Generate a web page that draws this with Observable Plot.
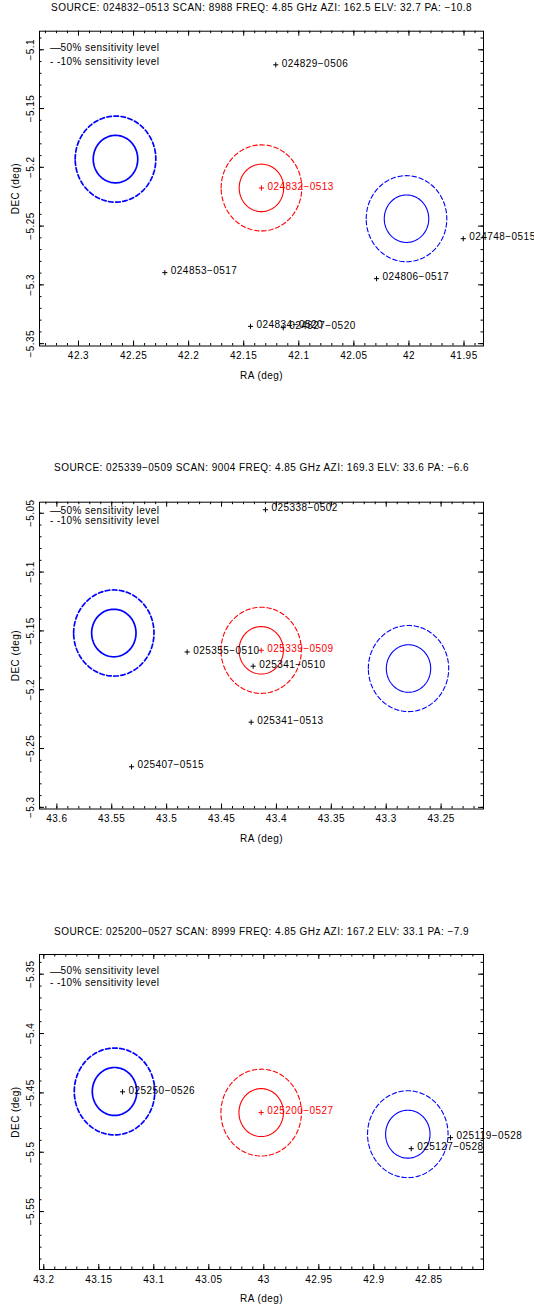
<!DOCTYPE html>
<html><head><meta charset="utf-8">
<script src="https://cdn.jsdelivr.net/npm/d3@7"></script>
<script src="https://cdn.jsdelivr.net/npm/@observablehq/plot@0.6"></script>
<style>
body{margin:0;background:#fff;}
#wrap{position:relative;width:534px;height:1306px;overflow:hidden;background:#fff;}
#wrap svg{position:absolute;left:0;overflow:hidden;}
</style></head><body><div id="wrap"></div>
<script>
// ---------- data ----------
const titles = [
  "SOURCE: 024832\u22120513 SCAN: 8988 FREQ: 4.85 GHz AZI: 162.5 ELV: 32.7 PA: \u221210.8",
  "SOURCE: 025339\u22120509 SCAN: 9004 FREQ: 4.85 GHz AZI: 169.3 ELV: 33.6 PA: \u22126.6",
  "SOURCE: 025200\u22120527 SCAN: 8999 FREQ: 4.85 GHz AZI: 167.2 ELV: 33.1 PA: \u22127.9"
];
const xDomains = [[42.3354, 41.9323], [43.6158, 43.2114], [43.2039, 42.8003]];
const yDomains = [[-5.352, -5.0842], [-5.3014, -5.0406], [-5.5988, -5.3334]];
const xMajorTicks = [
  [42.3, 42.25, 42.2, 42.15, 42.1, 42.05, 42, 41.95],
  [43.6, 43.55, 43.5, 43.45, 43.4, 43.35, 43.3, 43.25],
  [43.2, 43.15, 43.1, 43.05, 43, 42.95, 42.9, 42.85]
];
const yMajorTicks = [
  [-5.1, -5.15, -5.2, -5.25, -5.3, -5.35],
  [-5.05, -5.1, -5.15, -5.2, -5.25, -5.3],
  [-5.35, -5.4, -5.45, -5.5, -5.55]
];
const legendLabels = ["50% sensitivity level", "10% sensitivity level"];
const legendSymbols = ["\u2014", "- -"];
const beamRadii = [0.0202, 0.0366]; // 50% and 10% sensitivity radii (deg)

// beams: [RA, DEC] per panel: left (blue), centre (red), right (blue)
const beamRA  = [[42.2664, 42.1339, 42.0022], [43.5481, 43.4139, 43.2797], [43.1357, 43.0024, 42.8691]];
const beamDec = [[-5.1930, -5.2175, -5.2437], [-5.1518, -5.1665, -5.1820], [-5.4488, -5.4666, -5.4848]];
const beamColor = ["#0000ff", "#ff0000", "#0000ff"];
const beamWidth = [1.7, 1.1, 1.1];

const srcName = [
  ["024829\u22120506", "024832\u22120513", "024748\u22120515", "024853\u22120517", "024806\u22120517", "024834\u22120520", "024827\u22120520"],
  ["025338\u22120502", "025339\u22120509", "025355\u22120510", "025341\u22120510", "025341\u22120513", "025407\u22120515"],
  ["025250\u22120526", "025200\u22120527", "025119\u22120528", "025127\u22120528"]
];
const srcRA = [
  [42.1209, 42.1339, 41.9507, 42.2216, 42.0294, 42.1438, 42.1141],
  [43.4100, 43.4139, 43.4813, 43.4212, 43.4230, 43.5320],
  [43.1284, 43.0024, 42.8303, 42.8660]
];
const srcDec = [
  [-5.1128, -5.2176, -5.2607, -5.2896, -5.2947, -5.3353, -5.3364],
  [-5.0470, -5.1665, -5.1679, -5.1800, -5.2276, -5.2655],
  [-5.4491, -5.4666, -5.4877, -5.4970]
];
const srcIsTarget = [
  [false, true, false, false, false, false, false],
  [false, true, false, false, false, false],
  [false, true, false, false]
];

// ---------- layout ----------
const W = 534, ML = 39, MR = 51;
const svgTop = [0, 440, 880];
const svgH = [400, 420, 426];
const marginTop = [30.7, 61.7, 74];
const marginBottom = [54.5, 51.5, 37];
const titleDy = [-23.4, -34.2, -23.2];
const legendDy = [[16.6, 30.3], [8.3, 19.0], [16.7, 28.7]];
const FONT = "'Liberation Sans', Arial, Helvetica, sans-serif";
const FS = 10;

const fmt = d => (d < 0 ? "\u2212" : "") + String(Math.abs(d));

function buildPanel(i) {
  const H = svgH[i], mt = marginTop[i], mb = marginBottom[i];
  const frameH = H - mt - mb, frameW = W - ML - MR;
  const [xa, xb] = xDomains[i], [ya, yb] = yDomains[i];
  const xMinor = d3.range(Math.ceil(Math.min(xa, xb) * 100), Math.floor(Math.max(xa, xb) * 100) + 1).map(k => k / 100);
  const yMinor = d3.range(Math.ceil(Math.min(ya, yb) * 100), Math.floor(Math.max(ya, yb) * 100) + 1).map(k => k / 100);
  const MAJ = 5, MIN = 2.5;
  const LS = {letterSpacing: "0.45px"};

  const marks = [];
  marks.push(Plot.frame({stroke: "black", strokeWidth: 1}));
  // inward ticks on all four sides
  marks.push(Plot.ruleX(xMinor, {x: d => d, insetTop: frameH - MIN, stroke: "black"}));
  marks.push(Plot.ruleX(xMinor, {x: d => d, insetBottom: frameH - MIN, stroke: "black"}));
  marks.push(Plot.ruleX(xMajorTicks[i], {x: d => d, insetTop: frameH - MAJ, stroke: "black"}));
  marks.push(Plot.ruleX(xMajorTicks[i], {x: d => d, insetBottom: frameH - MAJ, stroke: "black"}));
  marks.push(Plot.ruleY(yMinor, {y: d => d, insetRight: frameW - MIN, stroke: "black"}));
  marks.push(Plot.ruleY(yMinor, {y: d => d, insetLeft: frameW - MIN, stroke: "black"}));
  marks.push(Plot.ruleY(yMajorTicks[i], {y: d => d, insetRight: frameW - MAJ, stroke: "black"}));
  marks.push(Plot.ruleY(yMajorTicks[i], {y: d => d, insetLeft: frameW - MAJ, stroke: "black"}));
  // tick labels
  marks.push(Plot.text(xMajorTicks[i], {x: d => d, text: fmt, frameAnchor: "bottom", dy: 10, textAnchor: "middle", lineAnchor: "middle", fontSize: FS, fill: "black"}));
  marks.push(Plot.text(yMajorTicks[i], {y: d => d, text: fmt, frameAnchor: "left", dx: -8.5, rotate: -90, textAnchor: "middle", lineAnchor: "middle", fontSize: FS, fill: "black"}));
  // axis titles
  marks.push(Plot.text(["RA (deg)"], {frameAnchor: "bottom", dy: 29.5, textAnchor: "middle", lineAnchor: "middle", fontSize: FS, fill: "black"}));
  marks.push(Plot.text(["DEC (deg)"], {frameAnchor: "left", dx: -24, rotate: -90, textAnchor: "middle", lineAnchor: "middle", fontSize: FS, fill: "black"}));
  // title
  marks.push(Plot.text([titles[i]], {frameAnchor: "top", dy: titleDy[i], textAnchor: "middle", lineAnchor: "middle", fontSize: FS, fill: "black", style: {letterSpacing: "0.15px"}}));
  // legend
  legendLabels.forEach((lab, k) => {
    marks.push(Plot.text([legendSymbols[k]], {frameAnchor: "top-left", dx: 10.5, dy: legendDy[i][k], textAnchor: "start", lineAnchor: "middle", fontSize: k === 0 ? 11 : FS, fill: "black"}));
    marks.push(Plot.text([lab], {frameAnchor: "top-left", dx: 21, dy: legendDy[i][k], textAnchor: "start", lineAnchor: "middle", fontSize: FS, fill: "black"}));
  });

  // beam circles
  beamRA[i].forEach((ra, b) => {
    const dec = beamDec[i][b];
    beamRadii.forEach((r, ri) => {
      const pts = d3.range(0, 361, 3).map(a => ({x: ra + r * Math.cos(a * Math.PI / 180), y: dec + r * Math.sin(a * Math.PI / 180)}));
      marks.push(Plot.line(pts, {x: "x", y: "y", stroke: beamColor[b], strokeWidth: beamWidth[b],
        strokeDasharray: ri === 1 ? "4.5,2.6" : null, curve: "linear"}));
    });
  });

  // sources
  const src = srcName[i].map((n, k) => ({name: n, ra: srcRA[i][k], dec: srcDec[i][k], target: srcIsTarget[i][k]}));
  marks.push(Plot.dot(src, {x: "ra", y: "dec", symbol: "plus", r: 1.8, stroke: d => d.target ? "#ff0000" : "black", strokeWidth: 1}));
  marks.push(Plot.text(src, {x: "ra", y: "dec", text: "name", textAnchor: "start", dx: 6, dy: -1.5, lineAnchor: "middle", fontSize: FS, fill: d => d.target ? "#ff0000" : "black"}));

  const svg = Plot.plot({
    width: W, height: H,
    marginLeft: ML, marginRight: MR, marginTop: mt, marginBottom: mb,
    x: {domain: xDomains[i], axis: null},
    y: {domain: yDomains[i], axis: null},
    style: {fontFamily: FONT, fontSize: FS + "px", background: "white", letterSpacing: LS.letterSpacing, overflow: "hidden"},
    marks
  });
  svg.style.top = svgTop[i] + "px";
  return svg;
}

const wrap = document.getElementById("wrap");
for (let i = 0; i < 3; i++) wrap.appendChild(buildPanel(i));
</script></body></html>
